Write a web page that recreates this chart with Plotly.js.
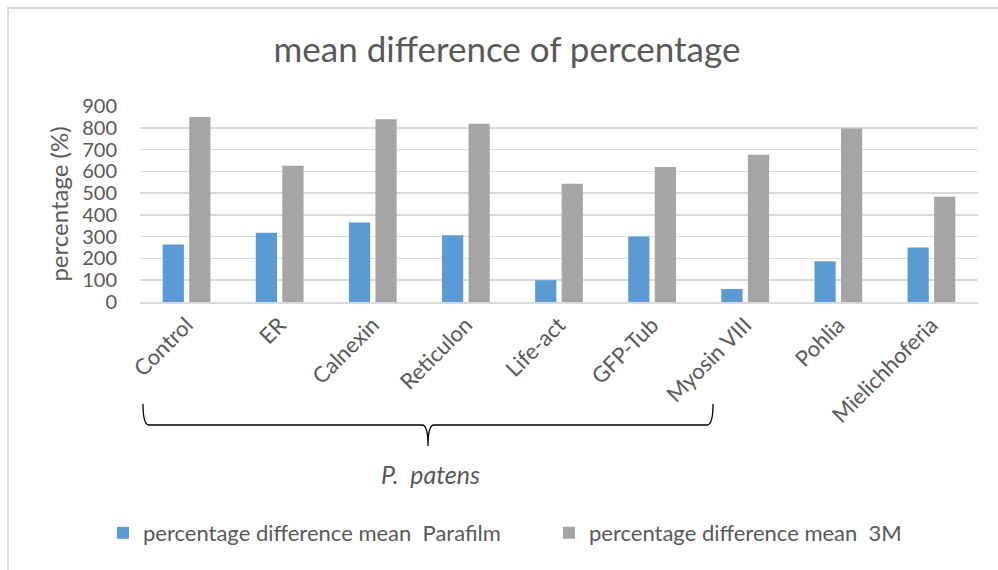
<!DOCTYPE html>
<html>
<head>
<meta charset="utf-8">
<script src="https://cdn.plot.ly/plotly-3.0.1.min.js"></script>
<style>
  html, body { margin: 0; padding: 0; background: #ffffff; }
  #chart { width: 998px; height: 570px; }
</style>
</head>
<body>
<div id="chart"></div>
<script>
// Category names along the x axis
const categories = ["Control", "ER", "Calnexin", "Reticulon", "Life-act", "GFP-Tub", "Myosin VIII", "Pohlia", "Mielichhoferia"];

// Series values (percent)
const parafilmValues = [264, 318, 365, 307, 100, 301, 60, 187, 250];
const threeMValues = [850, 626, 839, 819, 543, 620, 676, 797, 483];

// Series names shown in the legend
const parafilmName = "percentage difference mean  Parafilm";
const threeMName = "percentage difference mean  3M";

// Y axis ticks
const yTicks = [0, 100, 200, 300, 400, 500, 600, 700, 800, 900];

const W = 998, H = 570;
const M = { l: 140, r: 20, t: 106, b: 268 };
const FONT = "Lato, 'Liberation Sans', sans-serif";
const TEXT = "#595959";

// convert page pixels to paper coordinates for the decorative brace
const px = x => (x - M.l) / (W - M.l - M.r);
const py = y => (H - M.b - y) / (H - M.t - M.b);

function bracePath() {
  const pts = [];
  const cmd = (c, ...xy) => {
    let s = c;
    for (let i = 0; i < xy.length; i += 2) s += " " + px(xy[i]).toFixed(4) + "," + py(xy[i + 1]).toFixed(4);
    pts.push(s);
  };
  cmd("M", 143, 404);
  cmd("Q", 143, 425, 149, 425);
  cmd("L", 422, 425);
  cmd("Q", 428, 425, 428, 446);
  cmd("Q", 428, 425, 434, 425);
  cmd("L", 707, 425);
  cmd("Q", 713, 425, 713, 404);
  return pts.join(" ");
}

const traces = [
  { type: "bar", name: parafilmName, x: categories, y: parafilmValues, marker: { color: "#5B9BD5" }, legend: "legend" },
  { type: "bar", name: threeMName, x: categories, y: threeMValues, marker: { color: "#A5A5A5" }, legend: "legend2" }
];

const legendStyle = (xPix) => ({
  orientation: "h",
  x: px(xPix), xanchor: "left",
  y: py(533), yanchor: "middle",
  font: { family: FONT, size: 22, color: TEXT },
  itemwidth: 30,
  bgcolor: "rgba(0,0,0,0)"
});

const layout = {
  width: W, height: H,
  margin: M,
  paper_bgcolor: "#ffffff",
  plot_bgcolor: "#ffffff",
  font: { family: FONT, color: TEXT, size: 18 },
  title: {
    text: "mean difference of percentage",
    font: { family: FONT, size: 35, color: TEXT },
    x: 0.508, xanchor: "center", y: 0.912, yanchor: "middle"
  },
  barmode: "group",
  bargap: 0.43,
  bargroupgap: 0.2,
  xaxis: {
    type: "category",
    tickangle: -45,
    tickfont: { family: FONT, size: 22, color: TEXT },
    showgrid: false,
    showline: true, linecolor: "#d9d9d9", linewidth: 1.5,
    ticks: "", zeroline: false, fixedrange: true
  },
  yaxis: {
    range: [0, 900],
    tickvals: yTicks,
    ticktext: yTicks.map(String),
    tickfont: { family: FONT, size: 20, color: TEXT },
    ticklabelstandoff: 22,
    showgrid: true, gridcolor: "#d9d9d9", gridwidth: 1.5,
    zeroline: false, showline: false, ticks: "",
    title: { text: "percentage (%)", font: { family: FONT, size: 24, color: TEXT }, standoff: 6 },
    fixedrange: true
  },
  showlegend: true,
  legend: legendStyle(103),
  legend2: legendStyle(549),
  shapes: [
    {
      type: "path", xref: "paper", yref: "paper",
      path: bracePath(),
      line: { color: "#000000", width: 1.3 }
    },
    {
      type: "rect", xref: "paper", yref: "paper",
      x0: px(8), x1: px(1010), y0: py(8), y1: py(600),
      line: { color: "#d9d9d9", width: 2 }
    }
  ],
  annotations: [
    {
      xref: "paper", yref: "paper",
      x: px(430), y: py(474), xanchor: "center", yanchor: "middle",
      text: "<i>P.  patens</i>", showarrow: false,
      font: { family: FONT, size: 25, color: TEXT }
    }
  ]
};

Plotly.newPlot("chart", traces, layout, { displayModeBar: false, staticPlot: true });
</script>
</body>
</html>
